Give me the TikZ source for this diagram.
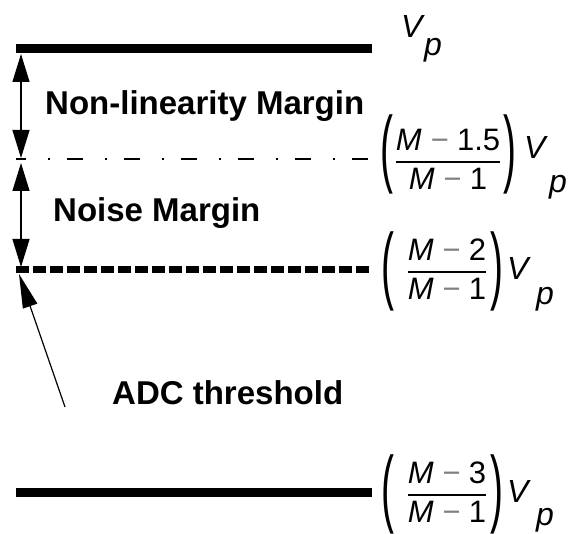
\documentclass[tikz,border=0pt]{standalone}
\usepackage{amsmath}
\usepackage{graphicx}
\usepackage{fontspec}
\setmainfont{Liberation Sans}
\usetikzlibrary{arrows.meta}
\newcommand\frc[2]{$\genfrac{}{}{2pt}{0}{\mbox{#1}}{\mbox{#2}}$}
\newcommand\mn{\textcolor{black!50}{−}}
\newcommand\lpar{\scalebox{1.25}[2.75]{(}}
\newcommand\rpar{\scalebox{1.25}[2.75]{)}}
\begin{document}
\begin{tikzpicture}[x=1pt,y=-1pt,
  solidlvl/.style={line width=9pt},
  dashdotlvl/.style={line width=1.8pt, dash pattern=on 16pt off 22pt on 2pt off 17pt, dash phase=6pt},
  dashlvl/.style={line width=7pt, dash pattern=on 13pt off 4pt},
  dimarrow/.style={line width=1.3pt, {Triangle[length=28pt,width=17pt]}-{Triangle[length=28pt,width=17pt]}},
  ptrarrow/.style={line width=1.2pt, -{Triangle[length=34pt,width=15pt]}},
  lbl/.style={font=\fontsize{33}{40}\selectfont\bfseries, inner sep=0pt, anchor=base west},
  fracnode/.style={font=\fontsize{31}{37}\selectfont, inner sep=0pt, anchor=base},
  parnode/.style={font=\fontsize{31}{37}\selectfont, inner sep=0pt, anchor=center},
  mthi/.style={font=\fontsize{32}{38}\selectfont\itshape, inner sep=0pt, anchor=base west}]
\useasboundingbox (0,0) rectangle (574,534);
% levels
\coordinate (a1) at (16,49);  \coordinate (a2) at (372,49);
\coordinate (b1) at (16,159); \coordinate (b2) at (374,159);
\coordinate (c1) at (16,270); \coordinate (c2) at (372,270);
\coordinate (d1) at (16,493); \coordinate (d2) at (372,493);
\draw[solidlvl] (a1) -- (a2);
\draw[dashdotlvl] (b1) -- (b2);
\draw[dashlvl] (c1) -- (c2);
\draw[solidlvl] (d1) -- (d2);
% dimension arrows
\coordinate (m1t) at (21,54);  \coordinate (m1b) at (21,158);
\coordinate (m2t) at (21,163); \coordinate (m2b) at (21,267);
\draw[dimarrow] (m1t) -- (m1b);
\draw[dimarrow] (m2t) -- (m2b);
% threshold pointer
\coordinate (pt) at (65,407); \coordinate (ph) at (19,274);
\draw[ptrarrow] (pt) -- (ph);
% labels
\node[lbl] (nl) at (45,115) {Non-linearity Margin};
\node[lbl] (nm) at (53,222) {Noise Margin};
\node[lbl] (adc) at (112,405) {ADC threshold};
% V_p
\node[mthi] (v0) at (401,38) {V};
\node[mthi] (p0) at (424,56) {p};
% (M-1.5)/(M-1) V_p
\node[parnode] (l1) at (387,154) {\lpar};
\node[fracnode] (f1) at (448,167.75) {\frc{\itshape M \mn\ \upshape 1.5}{\itshape M \mn\ \upshape 1}};
\node[parnode] (r1) at (510,154) {\rpar};
\node[mthi] (v1) at (524,159) {V};
\node[mthi] (p1) at (549,193) {p};
% (M-2)/(M-1) V_p
\node[parnode] (l2) at (388,271) {\lpar};
\node[fracnode] (f2) at (447,277.75) {\frc{\itshape M \mn\ \upshape 2}{\itshape M \mn\ \upshape 1}};
\node[parnode] (r2) at (497,271) {\rpar};
\node[mthi] (v2) at (507,280) {V};
\node[mthi] (p2) at (536,305) {p};
% (M-3)/(M-1) V_p
\node[parnode] (l3) at (388,494) {\lpar};
\node[fracnode] (f3) at (447,500.75) {\frc{\itshape M \mn\ \upshape 3}{\itshape M \mn\ \upshape 1}};
\node[parnode] (r3) at (497,494) {\rpar};
\node[mthi] (v3) at (507,503) {V};
\node[mthi] (p3) at (536,526) {p};
\end{tikzpicture}
\end{document}
